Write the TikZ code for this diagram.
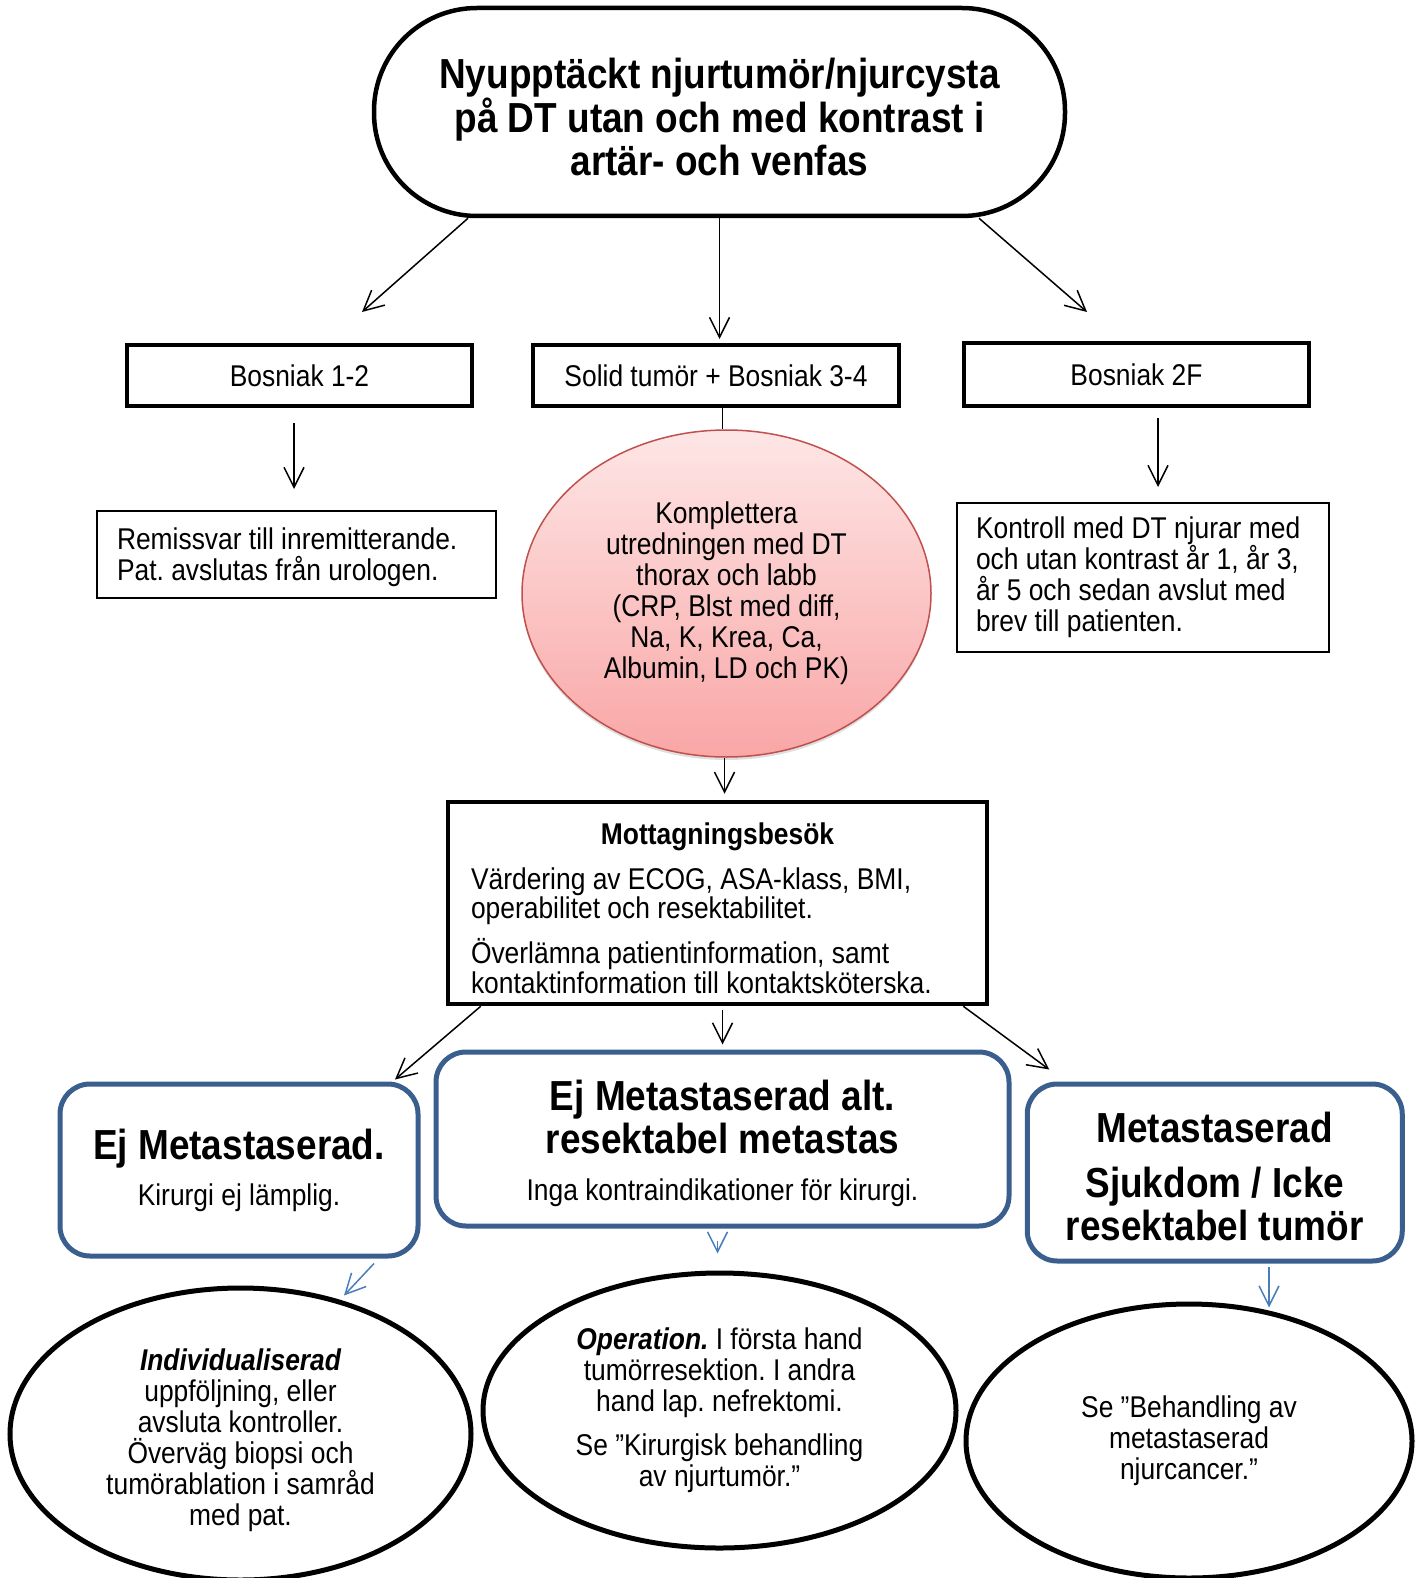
\documentclass[tikz,border=0pt]{standalone}
\usepackage{fontspec}
\setmainfont{Liberation Sans}[FakeStretch=0.88]
\usetikzlibrary{arrows.meta,shapes.geometric,shadows}
\frenchspacing

\definecolor{boxblue}{RGB}{58,95,142}
\definecolor{arrowblue}{RGB}{74,126,187}
\definecolor{pinkline}{RGB}{192,80,77}
\definecolor{pinktop}{RGB}{254,230,230}
\definecolor{pinkbot}{RGB}{249,166,166}

\newcommand{\bodyfs}{\fontsize{30}{31}\selectfont}
\newcommand{\headfs}{\fontsize{42}{43}\selectfont\bfseries}
% strut that lowers a node's text block
\newcommand{\ned}[1]{\rule{0pt}{#1pt}}

\tikzset{every picture/.style={line width=1.5pt},
  pil/.style={-{Straight Barb[length=20pt,width=20pt]},line width=1.5pt},
  blapil/.style={pil,draw=arrowblue},
  stadium/.style={draw,rectangle,rounded corners=103pt,line width=4.5pt,inner sep=0pt,font=\headfs,align=center},
  tjockbox/.style={draw,rectangle,line width=4.5pt,inner sep=0pt,font=\bodyfs},
  tunnbox/.style={draw,rectangle,line width=2pt,inner sep=0pt,font=\bodyfs,align=flush left},
  blabox/.style={draw=boxblue,rectangle,rounded corners=30pt,line width=5pt,inner sep=0pt,font=\headfs,align=center},
  rosaoval/.style={draw=pinkline,ellipse,line width=1.5pt,top color=pinktop,bottom color=pinkbot,inner sep=0pt,font=\bodyfs,align=center,
    drop shadow={shadow xshift=0pt,shadow yshift=-3pt,opacity=0.25}},
  slutoval/.style={draw,ellipse,line width=5pt,inner sep=0pt,font=\bodyfs,align=center}}

\begin{document}
\begin{tikzpicture}[x=1pt,y=-1pt]
  \useasboundingbox (0,0) rectangle (1421,1578);

  %Shape: Stadium [start]
  \node[stadium,minimum width=691,minimum height=208] (start) at (719.5,112)
    {\ned{40}Nyupptäckt njurtumör/njurcysta\\på DT utan och med kontrast i\\artär- och venfas};

  %Shape: Rectangle [bosniak row]
  \node[tjockbox,minimum width=345,minimum height=61] (bos12) at (299.5,375.5) {Bosniak 1-2};
  \node[tjockbox,minimum width=366,minimum height=61] (solid) at (716,375.5) {Solid tumör + Bosniak 3-4};
  \node[tjockbox,minimum width=345,minimum height=63] (bos2f) at (1136.5,374.5) {Bosniak 2F};

  %Shape: Rectangle [remiss]
  \node[tunnbox,minimum width=399,minimum height=87,text width=359] (remiss) at (296.5,554.5)
    {\ned{28}Remissvar till inremitterande.\\Pat. avslutas från urologen.};
  %Shape: Rectangle [kontroll]
  \node[tunnbox,minimum width=372,minimum height=149,text width=334] (kontroll) at (1143,577.5)
    {Kontroll med DT njurar med\\och utan kontrast år 1, år 3,\\år 5 och sedan avslut med\\brev till patienten.};
  %Shape: Ellipse [komplettera]
  \node[rosaoval,minimum width=409,minimum height=327] (komp) at (726.5,593.5)
    {Komplettera\\utredningen med DT\\thorax och labb\\(CRP, Blst med diff,\\Na, K, Krea, Ca,\\Albumin, LD och PK)};

  %Shape: Rectangle [mottagning]
  \node[tjockbox,minimum width=539,minimum height=202,text width=493,align=flush left] (motta) at (717.5,903)
    {\makebox[\linewidth]{\ned{32}\bfseries Mottagningsbesök}\\[14pt]
     Värdering av ECOG, ASA-klass, BMI,\\[-1.5pt]operabilitet och resektabilitet.\\[12pt]
     Överlämna patientinformation, samt\\[-1pt]kontaktinformation till kontaktsköterska.};

  %Shape: Rounded Rectangle [blue row]
  \node[blabox,minimum width=358,minimum height=172] (ejmet) at (239,1170)
    {Ej Metastaserad.\\[3pt]{\bodyfs\mdseries Kirurgi ej lämplig.}};
  \node[blabox,minimum width=573,minimum height=174] (ejmetalt) at (722.5,1139)
    {\ned{39}Ej Metastaserad alt.\\resektabel metastas\\[4.5pt]{\bodyfs\mdseries Inga kontraindikationer för kirurgi.}};
  \node[blabox,minimum width=375,minimum height=177] (met) at (1214.75,1172.5)
    {\ned{38}Metastaserad\\[12.5pt]Sjukdom / Icke\\resektabel tumör};

  %Shape: Ellipse [bottom row]
  \node[slutoval,minimum width=461,minimum height=292] (indiv) at (240.5,1434)
    {\ned{35}{\bfseries\itshape Individualiserad}\\uppföljning, eller\\avsluta kontroller.\\Överväg biopsi och\\tumörablation i samråd\\med pat.};
  \node[slutoval,minimum width=473,minimum height=275] (oper) at (719.5,1410.5)
    {{\bfseries\itshape Operation.} I första hand\\tumörresektion. I andra\\hand lap. nefrektomi.\\[13pt]Se ”Kirurgisk behandling\\av njurtumör.”};
  \node[slutoval,minimum width=446,minimum height=274] (behand) at (1189,1441)
    {Se ”Behandling av\\metastaserad\\njurcancer.”};

  % Free arrow ends
  \coordinate (p1) at (362,312);
  \coordinate (p2) at (719.5,339);
  \coordinate (p3) at (1087,312);

  %Straight Lines
  \draw[pil] ([xshift=-251.5pt]start.south) -- (p1);
  \draw[pil] (start.south) -- (p2);
  \draw[pil] ([xshift=259.5pt]start.south) -- (p3);

  \draw[pil] ([xshift=-5.5pt,yshift=-15pt]bos12.south) -- ([xshift=-2.5pt,yshift=21pt]remiss.north);
  \draw[pil] ([xshift=21.5pt,yshift=-10pt]bos2f.south) -- ([xshift=15pt,yshift=15pt]kontroll.north);
  \draw ([xshift=6.5pt]solid.south) -- ([xshift=-4pt]komp.north);
  \draw[pil] ([xshift=-2pt]komp.south) -- ([xshift=7pt,yshift=6pt]motta.north);

  \draw[pil] ([xshift=35pt]motta.south west) -- ([xshift=-25.5pt,yshift=2pt]ejmet.north east);
  \draw[pil] ([xshift=5pt,yshift=-4pt]motta.south) -- ([yshift=5pt]ejmetalt.north);
  \draw[pil] ([xshift=-26pt]motta.south east) -- ([xshift=24.5pt,yshift=12pt]met.north west);

  \draw[blapil] ([xshift=135pt,yshift=-5pt]ejmet.south) -- ([xshift=103.5pt,yshift=-10pt]indiv.north);
  \draw[blapil] ([xshift=-5pt,yshift=-12pt]ejmetalt.south) -- ([xshift=-2pt,yshift=17pt]oper.north);
  \draw[blapil] ([xshift=54.25pt,yshift=-3pt]met.south) -- ([xshift=80pt,yshift=-6pt]behand.north);

\end{tikzpicture}
\end{document}
